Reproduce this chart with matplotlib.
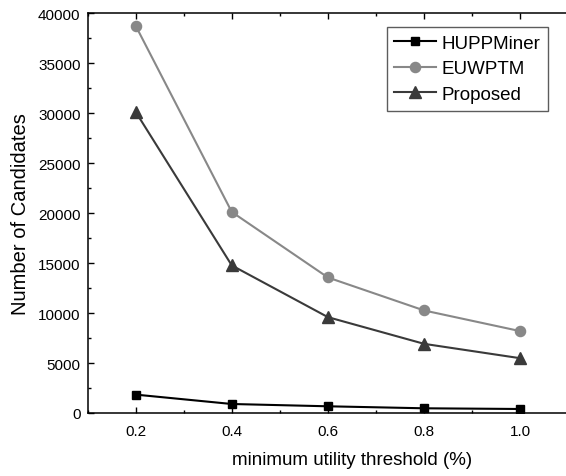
import matplotlib
matplotlib.use("Agg")
import matplotlib.pyplot as plt
from matplotlib.ticker import MultipleLocator

plt.rcParams['font.family'] = ['Liberation Sans', 'DejaVu Sans']

thresholds = [0.2, 0.4, 0.6, 0.8, 1.0]
huppminer = [1840, 900, 670, 470, 400]
euwptm = [38770, 20120, 13560, 10260, 8190]
proposed = [30150, 14770, 9590, 6920, 5480]
xtick_labels = ["0.2", "0.4", "0.6", "0.8", "1.0"]

fig = plt.figure(figsize=(5.66, 4.77), dpi=100)
ax = fig.add_axes([0.1546, 0.1321, 0.9346, 0.8379])

ax.plot(thresholds, huppminer, color='black', marker='s', markersize=6.2, linewidth=1.5, label='HUPPMiner')
ax.plot(thresholds, euwptm, color='#888888', marker='o', markersize=7.3, linewidth=1.5, label='EUWPTM')
ax.plot(thresholds, proposed, color='#3a3a3a', marker='^', markersize=8, linewidth=1.5, label='Proposed')

ax.set_xlim(0.1, 1.2)
ax.set_ylim(0, 40000)
ax.set_xticks(thresholds)
ax.set_xticklabels(xtick_labels)
ax.xaxis.set_minor_locator(MultipleLocator(0.1))
ax.yaxis.set_major_locator(MultipleLocator(5000))
ax.yaxis.set_minor_locator(MultipleLocator(2500))
ax.tick_params(which='both', direction='in', labelsize=11, top=True, right=True)
ax.tick_params(which='major', length=4.3, width=1.0)
ax.tick_params(which='minor', length=2.5, width=1.0)
ax.tick_params(axis='x', pad=8)
ax.tick_params(axis='y', pad=5)

for s in ax.spines.values():
    s.set_linewidth(1.1)

ax.set_xlabel('minimum utility threshold (%)', fontsize=13.5, labelpad=9)
ax.set_ylabel('Number of Candidates', fontsize=14.5, labelpad=6)

leg = ax.legend(loc='upper left', bbox_to_anchor=(0.566, 0.965), fontsize=13.5,
                frameon=True, fancybox=False, edgecolor='#333333',
                handlelength=2.2, handletextpad=0.3, borderpad=0.4, labelspacing=0.45,
                borderaxespad=0)
leg.get_frame().set_linewidth(1.0)

fig.savefig('out.png', dpi=100)
